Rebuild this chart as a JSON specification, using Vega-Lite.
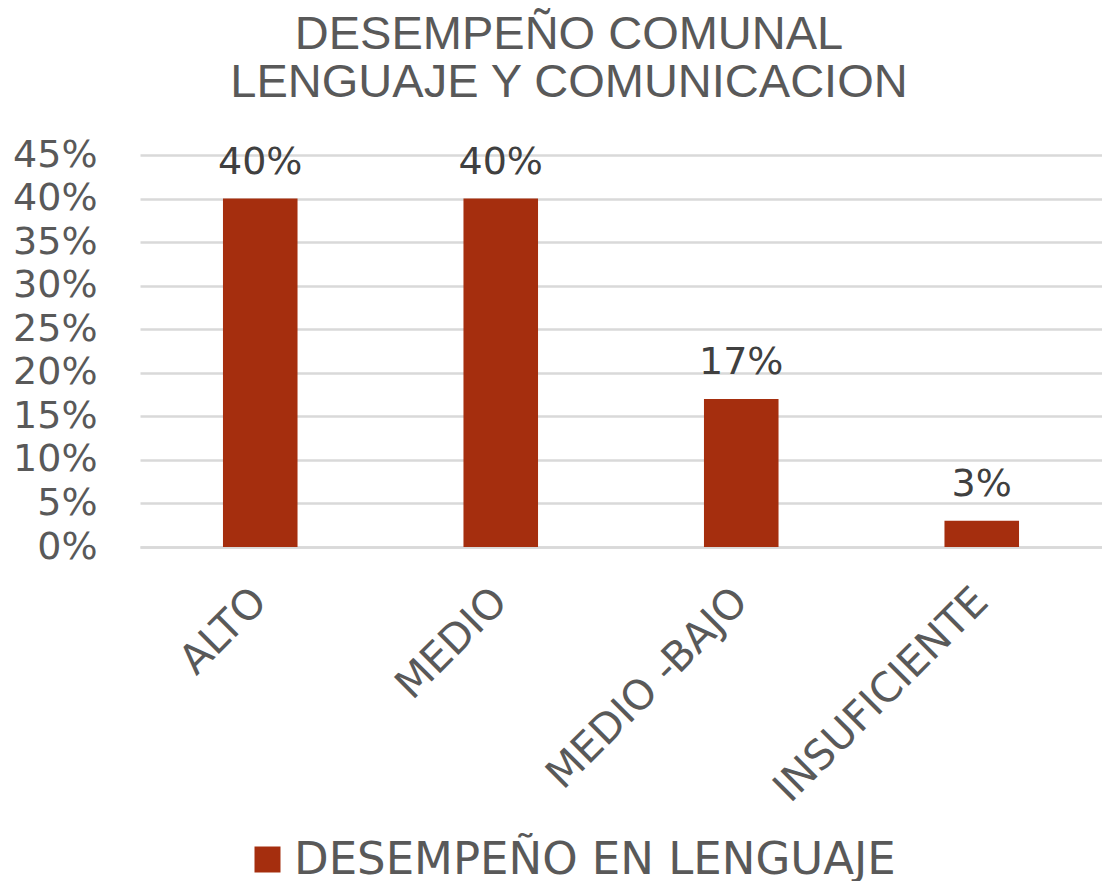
{
  "$schema": "https://vega.github.io/schema/vega-lite/v6.json",
  "autosize": "none",
  "width": 962,
  "height": 392,
  "padding": {"left": 140, "top": 155, "right": 0, "bottom": 334},
  "background": "white",
  "title": {
    "text": ["DESEMPEÑO COMUNAL", "LENGUAJE Y COMUNICACION"],
    "font": "Liberation Sans",
    "fontSize": 47,
    "fontWeight": "normal",
    "color": "#595959",
    "anchor": "middle",
    "frame": "group",
    "dx": -52,
    "lineHeight": 48,
    "offset": 29
  },
  "data": {
    "values": [
      {"categoria": "ALTO", "valor": 0.40, "serie": "DESEMPEÑO EN LENGUAJE"},
      {"categoria": "MEDIO", "valor": 0.40, "serie": "DESEMPEÑO EN LENGUAJE"},
      {"categoria": "MEDIO -BAJO", "valor": 0.17, "serie": "DESEMPEÑO EN LENGUAJE"},
      {"categoria": "INSUFICIENTE", "valor": 0.03, "serie": "DESEMPEÑO EN LENGUAJE"}
    ]
  },
  "config": {
    "view": {"stroke": null},
    "font": "DejaVu Sans"
  },
  "encoding": {
    "x": {
      "field": "categoria",
      "type": "nominal",
      "sort": null,
      "scale": {"paddingInner": 0.69, "paddingOuter": 0.345},
      "axis": {
        "title": null,
        "labelAngle": -45,
        "labelAlign": "right",
        "labelBaseline": "middle",
        "labelPadding": 48,
        "labelFontSize": 41,
        "labelFont": "DejaVu Sans",
        "labelColor": "#595959",
        "labelLimit": 500,
        "ticks": false,
        "domain": true,
        "domainColor": "#D9D9D9",
        "domainWidth": 2.5
      }
    },
    "y": {
      "field": "valor",
      "type": "quantitative",
      "scale": {"domain": [0, 0.45], "nice": false},
      "axis": {
        "title": null,
        "format": ".0%",
        "values": [0, 0.05, 0.1, 0.15, 0.2, 0.25, 0.3, 0.35, 0.4, 0.45],
        "labelFontSize": 38,
        "labelFont": "DejaVu Sans",
        "labelColor": "#595959",
        "labelPadding": 43,
        "ticks": false,
        "domain": false,
        "grid": true,
        "gridColor": "#D9D9D9",
        "gridWidth": 2.5
      }
    }
  },
  "layer": [
    {
      "mark": {"type": "bar"},
      "encoding": {
        "color": {
          "field": "serie",
          "type": "nominal",
          "scale": {"range": ["#A52E0E"]},
          "legend": {
            "title": null,
            "orient": "none",
            "legendX": 105,
            "legendY": 682,
            "padding": 0,
            "symbolType": "square",
            "symbolSize": 676,
            "symbolStrokeWidth": 0,
            "labelFontSize": 45,
            "labelFont": "DejaVu Sans",
            "labelColor": "#595959",
            "labelOffset": 4,
            "labelLimit": 1000
          }
        }
      }
    },
    {
      "mark": {
        "type": "text",
        "baseline": "alphabetic",
        "dy": -25,
        "fontSize": 38,
        "font": "DejaVu Sans",
        "color": "#404040"
      },
      "encoding": {
        "text": {"field": "valor", "type": "quantitative", "format": ".0%"}
      }
    }
  ]
}
